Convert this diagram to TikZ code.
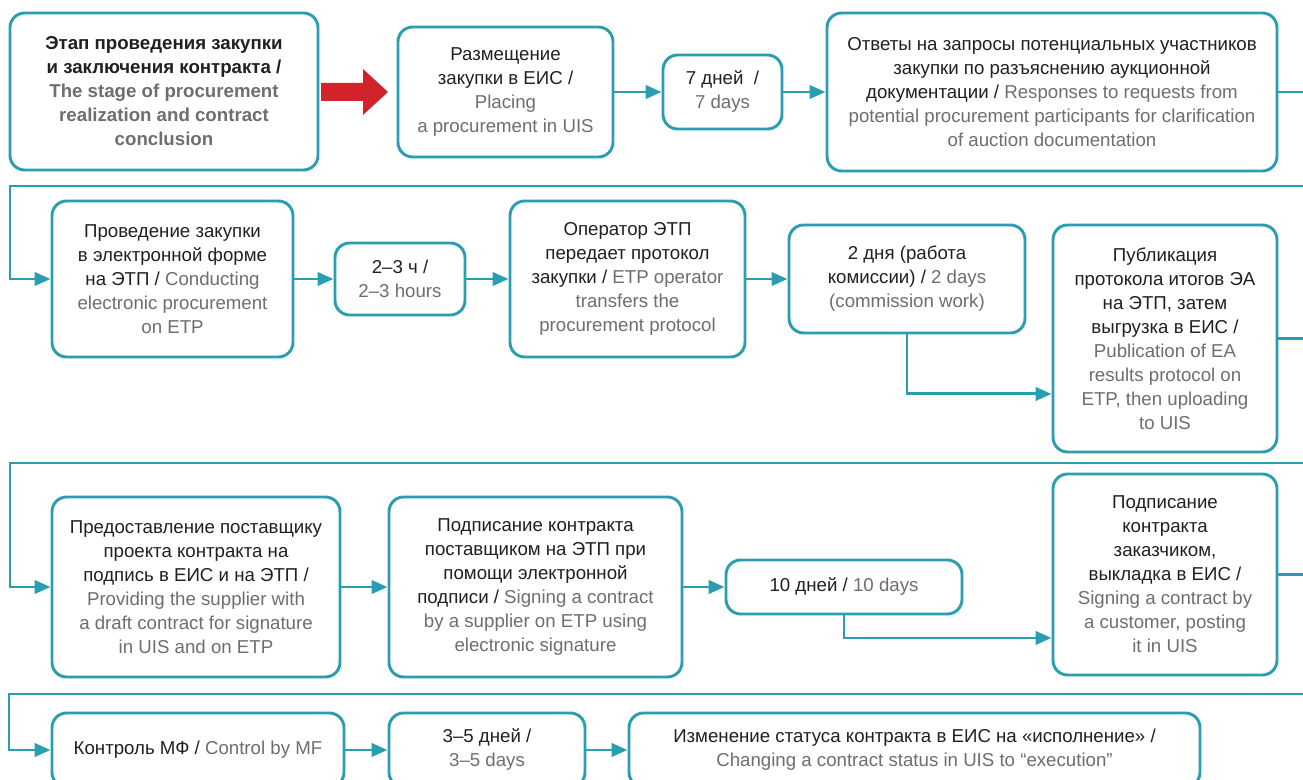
\documentclass[tikz,border=0pt]{standalone}
\usepackage{fontspec}
\setmainfont{Liberation Sans}
\usetikzlibrary{arrows.meta}
\definecolor{teal1}{HTML}{2A9DB0}
\definecolor{txt}{HTML}{231F20}
\definecolor{gtx}{HTML}{6D6E71}
\definecolor{redar}{HTML}{D2232A}
\newcommand\gt[1]{\textcolor{gtx}{#1}}
\def\u{0.75pt}
\begin{document}
\begin{tikzpicture}[x=0.75pt,y=-0.75pt,
  box/.style={draw=teal1, line width=2.2pt, rounded corners=11pt, inner sep=0pt,
    align=center, text=txt, font=\fontsize{14pt}{18pt}\selectfont, fill=white},
  sz/.style 2 args={minimum width={#1*\u}, minimum height={#2*\u}},
  conn/.style={draw=teal1, line width=2.2pt},
  arr/.style={conn, -{Triangle[length=12pt,width=10pt]}}]
\useasboundingbox (0,0) rectangle (1303,780);
\clip (0,0) rectangle (1303,780);
% row 1
\node[box, sz={308}{157}, font=\fontsize{14pt}{18pt}\selectfont\bfseries] (b1) at (164,91.5)
  {Этап проведения закупки\\и заключения контракта /\\\gt{The stage of procurement}\\\gt{realization and contract}\\\gt{conclusion}};
\node[box, sz={215}{130}] (b2) at (505.5,92)
  {Размещение\\закупки в ЕИС /\\\gt{Placing}\\\gt{a procurement in UIS}};
\node[box, sz={119}{74}] (b3) at (722.5,92) {7 дней~~/\\\gt{7 days}};
\node[box, sz={450}{158}] (b4) at (1052,92)
  {Ответы на запросы потенциальных участников\\закупки по разъяснению аукционной\\документации / \gt{Responses to requests from}\\\gt{potential procurement participants for clarification}\\\gt{of auction documentation}};
% row 2
\node[box, sz={241}{156}] (b5) at (172.5,279)
  {Проведение закупки\\в электронной форме\\на ЭТП / \gt{Conducting}\\\gt{electronic procurement}\\\gt{on ETP}};
\node[box, sz={130}{72}] (b6) at (400,279) {2–3 ч /\\\gt{2–3 hours}};
\node[box, sz={235}{156}] (b7) at (627.5,279)
  {Оператор ЭТП\\передает протокол\\закупки / \gt{ETP operator}\\\gt{transfers the}\\\gt{procurement protocol}};
\node[box, sz={236}{108}] (b8) at (907,279)
  {2 дня (работа\\комиссии) / \gt{2 days}\\\gt{(commission work)}};
\node[box, sz={224}{227}] (b9) at (1165,338.5)
  {Публикация\\протокола итогов ЭА\\на ЭТП, затем\\выгрузка в ЕИС /\\\gt{Publication of EA}\\\gt{results protocol on}\\\gt{ETP, then uploading}\\\gt{to UIS}};
% row 3
\node[box, sz={288}{180}] (b10) at (196,587)
  {Предоставление поставщику\\проекта контракта на\\подпись в ЕИС и на ЭТП /\\\gt{Providing the supplier with}\\\gt{a draft contract for signature}\\\gt{in UIS and on ETP}};
\node[box, sz={293}{180}] (b11) at (535.5,587)
  {Подписание контракта\\поставщиком на ЭТП при\\помощи электронной\\подписи / \gt{Signing a contract}\\\gt{by a supplier on ETP using}\\\gt{electronic signature}};
\node[box, sz={236}{54}] (b12) at (844,587) {10 дней / \gt{10 days}};
\node[box, sz={224}{201}] (b13) at (1165,574.5)
  {Подписание\\контракта\\заказчиком,\\выкладка в ЕИС /\\\gt{Signing a contract by}\\\gt{a customer, posting}\\\gt{it in UIS}};
% row 4
\node[box, sz={292}{74}] (b14) at (198,750) {Контроль МФ / \gt{Control by MF}};
\node[box, sz={196}{74}] (b15) at (487,750) {3–5 дней /\\\gt{3–5 days}};
\node[box, sz={571}{74}] (b16) at (914.5,750)
  {Изменение статуса контракта в ЕИС на «исполнение» /\\\gt{Changing a contract status in UIS to “execution”}};
% red arrow
\fill[redar] (321,83) -- (363,83) -- (363,69) -- (388,92) -- (363,115) -- (363,101) -- (321,101) -- cycle;
% coordinates for wrap-around lines
\coordinate (r1) at (1320,186); \coordinate (l1) at (10,186);
\coordinate (r2) at (1320,463); \coordinate (l2) at (10,463);
\coordinate (r3) at (1320,694); \coordinate (l3) at (9,694);
% connectors
\draw[arr] (b2.east) -- (b3.west);
\draw[arr] (b3.east) -- (b4.west);
\draw[arr] (b4.east) -| (r1) -- (l1) |- (b5.west);
\draw[arr] (b5.east) -- (b6.west);
\draw[arr] (b6.east) -- (b7.west);
\draw[arr] (b7.east) -- (b8.west);
\draw[arr] (b8.south) |- ([yshift=-41.6pt]b9.west);
\draw[arr] (b9.east) -| (r2) -- (l2) |- (b10.west);
\draw[arr] (b10.east) -- (b11.west);
\draw[arr] (b11.east) -- (b12.west);
\draw[arr] (b12.south) |- ([yshift=-47.6pt]b13.west);
\draw[arr] (b13.east) -| (r3) -- (l3) |- (b14.west);
\draw[arr] (b14.east) -- (b15.west);
\draw[arr] (b15.east) -- (b16.west);
\end{tikzpicture}
\end{document}
